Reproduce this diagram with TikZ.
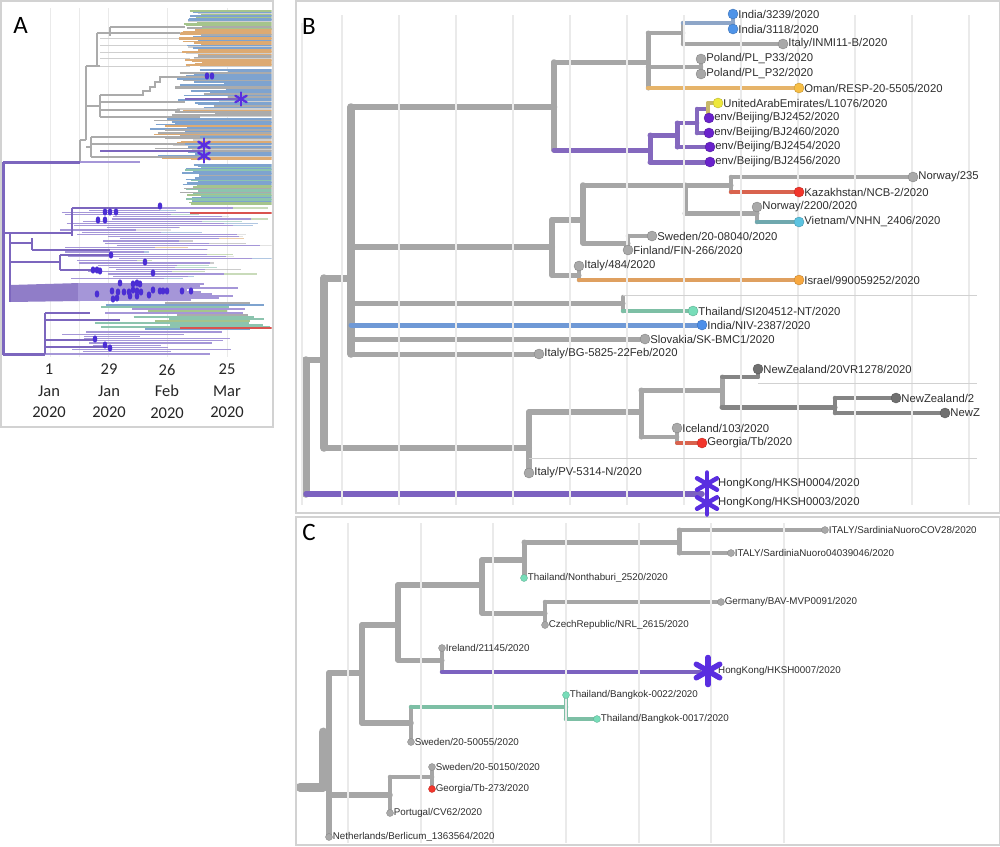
\documentclass[tikz,border=0pt]{standalone}
\usepackage{fontspec}
\setmainfont{Liberation Sans}
\newfontfamily\carl{Carlito}
\pgfdeclarelayer{bgl}
\pgfdeclarelayer{edges}
\pgfsetlayers{bgl,edges,main}
% panel A colours
\definecolor{aGreen}{HTML}{A5C48C}
\definecolor{aBlue}{HTML}{7EA3CF}
\definecolor{aGrey}{HTML}{ABABAB}
\definecolor{aOrange}{HTML}{DDAA72}
\definecolor{aTeal}{HTML}{8CC4AE}
\definecolor{aPurple}{HTML}{A596D8}
\definecolor{aRed}{HTML}{D9534F}
\definecolor{aGreyL}{HTML}{CFCFCF}
\definecolor{aPurpleD}{HTML}{7C66BE}
\definecolor{aDot}{HTML}{4B2ED4}
% tree colours
\definecolor{gB}{HTML}{A6A6A6}
\definecolor{gDk}{HTML}{858585}
\definecolor{gDot}{HTML}{A9A9A9}
\definecolor{nzD}{HTML}{707070}
\definecolor{gridc}{HTML}{EAEAEA}
\definecolor{framec}{HTML}{D2D2D2}
\definecolor{bluL}{HTML}{8EA6C8}
\definecolor{bluD}{HTML}{4F94E8}
\definecolor{orL}{HTML}{E6B46A}
\definecolor{orD}{HTML}{F7BE45}
\definecolor{yelD}{HTML}{EEE83C}
\definecolor{uaeL}{HTML}{C8B86A}
\definecolor{purL}{HTML}{8468BE}
\definecolor{purD}{HTML}{6A22CC}
\definecolor{redL}{HTML}{D9634E}
\definecolor{redD}{HTML}{F2362C}
\definecolor{tealL}{HTML}{6FA8AE}
\definecolor{cyanD}{HTML}{5CC3E0}
\definecolor{isrL}{HTML}{DFA060}
\definecolor{isrD}{HTML}{F7A840}
\definecolor{thL}{HTML}{7DBFA5}
\definecolor{thD}{HTML}{78DDB9}
\definecolor{indL}{HTML}{6F99D6}
\definecolor{indD}{HTML}{4C8FEA}
\definecolor{hkL}{HTML}{7C62C0}
\definecolor{astc}{HTML}{5A2EE0}
\newcommand\pickcol[1]{\ifcase#1 aGreen\or aBlue\or aGrey\or aOrange\or aTeal\or aPurple\or aRed\or aGreyL\fi}
\newcommand\hb[3]{\draw[#1] (#2 |- #3) -- (#3);}
\newcommand\vb[4]{\draw[#1] (#2 |- #3) -- (#2 |- #4);}
\newcommand\astx[3]{\foreach \aa in {30,90,150} \draw[astc, line width=#3, line cap=round] ([shift={(\aa:#2)}]#1.center) -- ([shift={(\aa+180:#2)}]#1.center);}
\tikzset{
  bw/.style={line width=#1, line cap=round, line join=round},
  tipB/.style={circle, inner sep=0pt, minimum size=10pt, fill=#1, draw=#1!78!black, line width=0.4pt, label distance=5pt},
  tipC/.style={circle, inner sep=0pt, minimum size=7pt, fill=#1, draw=#1!78!black, line width=0.3pt, label distance=3.5pt},
  lbB/.style={font=\fontsize{11.3}{13}\selectfont, text=black!82, inner sep=0pt},
  lbC/.style={font=\fontsize{9.8}{12}\selectfont, text=black!82, inner sep=0pt},
  panl/.style={font=\carl\fontsize{25}{28}\selectfont, inner sep=0pt},
  datel/.style={font=\carl\fontsize{16.5}{21.5}\selectfont, align=center, inner sep=0pt, text=black!85},
  grd/.style={gridc, line width=1.3pt},
  hl/.style={black!18, line width=0.8pt}
}
\begin{document}
\begin{tikzpicture}[x=1pt,y=-1pt]
\useasboundingbox (0,0) rectangle (1000,846);
\begin{pgfonlayer}{bgl}
\fill[white] (0,0) rectangle (1000,846);
\end{pgfonlayer}
% frames
\draw[framec, line width=1.5pt] (1,1) rectangle (273,427);
\draw[framec, line width=1.5pt] (295.75,1) rectangle (999.25,513);
\draw[framec, line width=1.5pt] (295.75,517) rectangle (999.25,845);

%================ PANEL A =================
\node[panl] (lA) at (20.5,25.5) {A};
\foreach \gx in {50,79,108,167,227} \draw[gridc, line width=1pt] (\gx,8) -- (\gx,357);
\node[datel] (dA1) at (49,391) {1\\Jan\\2020};
\node[datel] (dA2) at (109,391) {29\\Jan\\2020};
\node[datel] (dA3) at (167,391) {26\\Feb\\2020};
\node[datel] (dA4) at (227,391) {25\\Mar\\2020};
\begin{scope}
\clip (2,3) rectangle (271.5,357);
\pgfmathsetseed{2020}
% pale grey stems of top clade
\foreach \yy in {32,38,45,52,58,66} \draw[aGreyL, line width=1pt] (100,\yy) -- (190,\yy);
\foreach \yy in {11,12.3,...,30} {
  \pgfmathsetmacro\xs{183+20*rnd}
  \pgfmathtruncatemacro\ci{{0,1,2,1,0,7}[int(6*rnd)]}
  \edef\cn{\pickcol{\ci}}
  \draw[color=\cn, line width=1.5pt] (\xs,\yy) -- (272,\yy);
}
\foreach \yy in {30,31.3,...,67} {
  \pgfmathsetmacro\xs{178+25*rnd}
  \pgfmathtruncatemacro\ci{{3,3,2,1,3,7}[int(6*rnd)]}
  \edef\cn{\pickcol{\ci}}
  \draw[color=\cn, line width=1.5pt] (\xs,\yy) -- (272,\yy);
}
\foreach \yy in {70,71.5,...,117} {
  \pgfmathsetmacro\xs{170+65*rnd}
  \pgfmathtruncatemacro\ci{{1,2,1,1,3,7,2}[int(7*rnd)]}
  \edef\cn{\pickcol{\ci}}
  \draw[color=\cn, line width=1.5pt] (\xs,\yy) -- (272,\yy);
}
\foreach \yy in {119,120.4,...,160} {
  \pgfmathsetmacro\xs{150+50*rnd}
  \pgfmathtruncatemacro\ci{{1,2,1,3,7,1}[int(6*rnd)]}
  \edef\cn{\pickcol{\ci}}
  \draw[color=\cn, line width=1.5pt] (\xs,\yy) -- (272,\yy);
}
\foreach \yy in {165,166.3,...,205} {
  \pgfmathsetmacro\xs{180+22*rnd}
  \pgfmathtruncatemacro\ci{{1,0,1,2,1,4}[int(6*rnd)]}
  \edef\cn{\pickcol{\ci}}
  \draw[color=\cn, line width=1.5pt] (\xs,\yy) -- (272,\yy);
}
% purple clade
\foreach \yy in {208,210.2,...,280} {
  \pgfmathsetmacro\xs{60+60*rnd}
  \pgfmathsetmacro\xe{\xs+60+100*rnd}
  \pgfmathsetmacro\xf{\xe+45*rnd}
  \pgfmathtruncatemacro\ci{{0,1,3,4,2,7}[int(6*rnd)]}
  \edef\cn{\pickcol{\ci}}
  \draw[color=\cn, line width=1.1pt, opacity=0.6] (\xe,\yy) -- (\xf,\yy);
  \draw[aPurple, line width=1.1pt] (\xs,\yy) -- (\xe,\yy);
}
\fill[aPurpleD!85] (10,285) -- (80,283) -- (80,301) -- (10,302) -- cycle;
\foreach \yy in {284,286,...,300} {
  \pgfmathsetmacro\xe{170+70*rnd}
  \draw[aPurple, line width=1.2pt] (78,\yy) -- (\xe,\yy);
}
\foreach \yy in {303,305,...,330} {
  \pgfmathsetmacro\xs{90+90*rnd}
  \pgfmathsetmacro\xe{225+50*rnd}
  \pgfmathtruncatemacro\ci{{4,0,1,5,2,4}[int(6*rnd)]}
  \edef\cn{\pickcol{\ci}}
  \draw[color=\cn, line width=1.3pt] (\xs,\yy) -- (\xe,\yy);
}
\foreach \yy in {332,334.2,...,353} {
  \pgfmathsetmacro\xs{45+50*rnd}
  \pgfmathsetmacro\xe{140+100*rnd}
  \draw[aPurple, line width=1.1pt] (\xs,\yy) -- (\xe,\yy);
}
\draw[aRed, line width=1.8pt] (190,213) -- (272,213);
\draw[aRed, line width=1.8pt] (180,328) -- (272,328);
% grey backbone of top clade
\draw[aGrey, line width=1.6pt] (80,140) -- (80,162) (80,140) -- (86,140) (86,66) -- (86,140)
  (86,66) -- (100,66) (97,33) -- (97,66) (97,33) -- (180,33) (110,27) -- (110,36) (110,27) -- (185,27)
  (86,106) -- (100,106) (100,95) -- (100,117)
  (100,95) -- (143,95) -- (143,91) -- (150,91) -- (150,87) -- (155,87) -- (155,82) -- (160,82) -- (160,77) -- (205,77)
  (100,102) -- (185,102) (100,110) -- (180,110) (100,117) -- (200,117)
  (86,147) -- (91,147) (91,137) -- (91,157) (91,137) -- (200,137) (91,144) -- (185,144) (91,157) -- (205,157);
\draw[aPurpleD, line width=1.8pt] (185,99) -- (241,99) (100,151) -- (204,151);
% purple backbone
\draw[aPurpleD, line width=3pt] (3,162) -- (3,355) (3,162) -- (80,162) (3,354) -- (45,354);
\draw[aPurple, line width=1.8pt] (80,162) -- (140,162) (45,354) -- (210,354);
\draw[aPurpleD, line width=2pt] (45,313) -- (45,354) (3,233) -- (72,233) (72,208) -- (72,236) (72,208) -- (160,208)
  (10,233) -- (10,302) (10,243) -- (32,243) (32,238) -- (32,250) (32,250) -- (110,250)
  (10,262) -- (60,262) (60,255) -- (60,270) (60,255) -- (111,255) (60,270) -- (100,270)
  (45,313) -- (90,313) (45,320) -- (120,320) (45,340) -- (95,340) (45,347) -- (110,347);
% purple dots
\foreach \p in {(207,76),(212,76),(160,206),(105,212),(110,212),(116,212),(98,220),(105,220),
  (111,255),(145,262),(153,273),(93,270),(97,270),(100,271),(120,283),(133,284),(137,283),(140,284),
  (112,291),(118,292),(124,292),(129,292),(133,290),(137,291),(141,292),(153,290),(160,291),(163,291),
  (167,291),(182,291),(191,291),(97,294),(113,299),(117,298),(130,296),(137,296),(149,295),
  (95,339),(105,345),(110,348)}
  \fill[aDot] \p ellipse (2.3 and 3.6);
\coordinate (aAst1) at (241,99);
\coordinate (aAst2) at (204,145);
\coordinate (aAst3) at (204,156);
\astx{aAst1}{6.5}{2.3}
\astx{aAst2}{6.5}{2.5}
\astx{aAst3}{6.5}{2.5}
\end{scope}

%================ PANEL B =================
\node[panl] (lB) at (309,26) {B};
\draw[grd] (302,23) -- (302,505);
\foreach \gx in {342,399,456,513,570,627,684,741,798,855,912,969} \draw[grd] (\gx,15) -- (\gx,505);
\draw[hl] (623,295) -- (977,295) (758,383) -- (977,383) (529,458) -- (977,458);
% internal nodes
\coordinate (bR) at (306,427);
\coordinate (bP) at (324,360);
\coordinate (bQ) at (351,278);
\coordinate (bS) at (554,107);
\coordinate (bU) at (648,62);
\coordinate (bW) at (683,33);
\coordinate (bX) at (733,23);
\coordinate (bPol) at (701,67);
\coordinate (bV) at (650,150);
\coordinate (bV2) at (677,135);
\coordinate (bV3) at (697,123);
\coordinate (bV4) at (708,109);
\coordinate (bT) at (552,247);
\coordinate (bT1) at (583,220);
\coordinate (bT3) at (685,185);
\coordinate (bT5) at (731,185);
\coordinate (bT6) at (757,213);
\coordinate (bT4) at (628,243);
\coordinate (bT2) at (579,275);
\coordinate (bTh) at (623,303);
\coordinate (tThx) at (623,297);
\coordinate (bN0) at (529,448);
\coordinate (bN1) at (641,412);
\coordinate (bN2) at (722,390);
\coordinate (bN2a) at (758,377);
\coordinate (bN4) at (835,407);
\coordinate (bN3) at (677,437);
\coordinate (bHK) at (702,494);
% tips
\node[tipB=bluD, label={[lbB]right:India/3239/2020}] (tIn1) at (733,14) {};
\node[tipB=bluD, label={[lbB]right:India/3118/2020}] (tIn2) at (733,29) {};
\node[tipB=gDot, label={[lbB]right:Italy/INMI11-B/2020}] (tItI) at (783,44) {};
\node[tipB=gDot, label={[lbB]right:Poland/PL\_P33/2020}] (tPo1) at (701,59) {};
\node[tipB=gDot, label={[lbB]right:Poland/PL\_P32/2020}] (tPo2) at (701,74) {};
\node[tipB=orD, label={[lbB]right:Oman/RESP-20-5505/2020}] (tOm) at (799,88) {};
\node[tipB=yelD, label={[lbB]right:UnitedArabEmirates/L1076/2020}] (tUae) at (718,103) {};
\node[tipB=purD, label={[lbB]right:env/Beijing/BJ2452/2020}] (tBj52) at (709,118) {};
\node[tipB=purD, label={[lbB]right:env/Beijing/BJ2460/2020}] (tBj60) at (709,133) {};
\node[tipB=purD, label={[lbB]right:env/Beijing/BJ2454/2020}] (tBj54) at (710,147) {};
\node[tipB=purD, label={[lbB]right:env/Beijing/BJ2456/2020}] (tBj56) at (710,162) {};
\node[tipB=gDot, label={[lbB]right:Norway/235}] (tNo35) at (913,177) {};
\node[tipB=redD, label={[lbB]right:Kazakhstan/NCB-2/2020}] (tKz) at (799,192) {};
\node[tipB=gDot, label={[lbB]right:Norway/2200/2020}] (tNo22) at (757,207) {};
\node[tipB=cyanD, label={[lbB]right:Vietnam/VNHN\_2406/2020}] (tVn) at (799,222) {};
\node[tipB=gDot, label={[lbB]right:Sweden/20-08040/2020}] (tSw) at (652,236) {};
\node[tipB=gDot, label={[lbB]right:Finland/FIN-266/2020}] (tFi) at (628,250) {};
\node[tipB=gDot, label={[lbB]right:Italy/484/2020}] (tIt484) at (579,266) {};
\node[tipB=isrD, label={[lbB]right:Israel/990059252/2020}] (tIsr) at (799,280) {};
\node[tipB=thD, label={[lbB]right:Thailand/SI204512-NT/2020}] (tTh) at (693,311) {};
\node[tipB=indD, label={[lbB]right:India/NIV-2387/2020}] (tInN) at (702,325) {};
\node[tipB=gDot, label={[lbB]right:Slovakia/SK-BMC1/2020}] (tSk) at (645,339) {};
\node[tipB=gDot, label={[lbB]right:Italy/BG-5825-22Feb/2020}] (tItBG) at (539,354) {};
\node[tipB=nzD, label={[lbB]right:NewZealand/20VR1278/2020}] (tNZ1) at (758,369) {};
\node[tipB=nzD, label={[lbB]right:NewZealand/2}] (tNZ2) at (896,398) {};
\node[tipB=nzD, label={[lbB]right:NewZ}] (tNZ3) at (945,413) {};
\node[tipB=gDot, label={[lbB]right:Iceland/103/2020}] (tIce) at (677,428) {};
\node[tipB=redD, label={[lbB]right:Georgia/Tb/2020}] (tGeo) at (702,443) {};
\node[tipB=gDot, label={[lbB]right:Italy/PV-5314-N/2020}] (tItPV) at (529,473) {};
\coordinate (tHK4) at (707,484);
\coordinate (tHK3) at (707,503);
\node[lbB, anchor=west] (lHK4) at ([xshift=11]tHK4) {HongKong/HKSH0004/2020};
\node[lbB, anchor=west] (lHK3) at ([xshift=11]tHK3) {HongKong/HKSH0003/2020};
\astx{tHK4}{11.5}{4.5}
\astx{tHK3}{11.5}{4.5}
\begin{pgfonlayer}{edges}
% root and backbone
\vb{gB, bw=7.5}{bR}{bP}{bHK}
\hb{gB, bw=6.5}{bR}{bP}
\hb{hkL, bw=5.5}{bR}{bHK}
\vb{gB, bw=7.5}{bP}{bQ}{bN0}
\hb{gB, bw=7}{bP}{bQ}
\hb{gB, bw=6}{bP}{bN0}
\vb{gB, bw=7.5}{bQ}{bS}{tItBG}
\hb{gB, bw=6.5}{bQ}{bS}
\hb{gB, bw=6}{bQ}{bT}
\hb{gB, bw=5}{bQ}{bTh}
\hb{indL, bw=5}{bQ}{tInN}
\hb{gB, bw=5}{bQ}{tSk}
\hb{gB, bw=5}{bQ}{tItBG}
% S clade
\vb{gB, bw=5.5}{bS}{bU}{bV}
\hb{gB, bw=5}{bS}{bU}
\hb{purL, bw=5}{bS}{bV}
\vb{gB, bw=5}{bU}{bW}{tOm}
\hb{gB, bw=4.5}{bU}{bW}
\hb{gB, bw=4.5}{bU}{bPol}
\hb{orL, bw=4.5}{bU}{tOm}
\vb{gB, bw=4.5}{bW}{bX}{tItI}
\hb{bluL, bw=4.5}{bW}{bX}
\hb{gB, bw=4.5}{bW}{tItI}
\vb{bluL, bw=4}{bX}{tIn1}{tIn2}
\vb{gB, bw=4}{bPol}{tPo1}{tPo2}
\vb{purL, bw=5}{bV}{bV2}{tBj56}
\hb{purL, bw=5}{bV}{bV2}
\hb{purL, bw=5}{bV}{tBj56}
\vb{purL, bw=5}{bV2}{bV3}{tBj54}
\hb{purL, bw=4.5}{bV2}{bV3}
\hb{purL, bw=4.5}{bV2}{tBj54}
\vb{purL, bw=4.5}{bV3}{bV4}{tBj60}
\hb{purL, bw=4}{bV3}{bV4}
\hb{purL, bw=4.5}{bV3}{tBj60}
\vb{uaeL, bw=4}{bV4}{tUae}{tBj52}
\hb{uaeL, bw=4}{bV4}{tUae}
% T clade
\vb{gB, bw=6}{bT}{bT1}{bT2}
\hb{gB, bw=5.5}{bT}{bT1}
\hb{gB, bw=5}{bT}{bT2}
\vb{gB, bw=5.5}{bT1}{bT3}{bT4}
\hb{gB, bw=5}{bT1}{bT3}
\hb{gB, bw=5}{bT1}{bT4}
\vb{gB, bw=5}{bT3}{bT5}{bT6}
\hb{gB, bw=5}{bT3}{bT5}
\hb{gB, bw=5}{bT3}{bT6}
\vb{gB, bw=4.5}{bT5}{tNo35}{tKz}
\hb{gB, bw=4.5}{bT5}{tNo35}
\hb{redL, bw=4.5}{bT5}{tKz}
\vb{gB, bw=4.5}{bT6}{tNo22}{tVn}
\hb{tealL, bw=4.5}{bT6}{tVn}
\vb{gB, bw=4.5}{bT4}{tSw}{tFi}
\hb{gB, bw=4.5}{bT4}{tSw}
\vb{gB, bw=4.5}{bT2}{tIt484}{tIsr}
\hb{isrL, bw=4.5}{bT2}{tIsr}
\vb{gB, bw=4.5}{bTh}{tThx}{tTh}
\hb{thL, bw=4.5}{bTh}{tTh}
% N clade
\vb{gB, bw=5.5}{bN0}{bN1}{tItPV}
\hb{gB, bw=5.5}{bN0}{bN1}
\vb{gB, bw=5}{bN1}{bN2}{bN3}
\hb{gB, bw=5}{bN1}{bN2}
\hb{gB, bw=4.5}{bN1}{bN3}
\vb{gB, bw=5}{bN2}{bN2a}{bN4}
\hb{gDk, bw=4}{bN2}{bN2a}
\hb{gDk, bw=5}{bN2}{bN4}
\vb{gDk, bw=4}{bN2a}{tNZ1}{bN2a}
\vb{gDk, bw=4.5}{bN4}{tNZ2}{tNZ3}
\hb{gDk, bw=4.5}{bN4}{tNZ2}
\hb{gDk, bw=4.5}{bN4}{tNZ3}
\vb{gB, bw=4}{bN3}{tIce}{tGeo}
\hb{redL, bw=4}{bN3}{tGeo}
\end{pgfonlayer}

%================ PANEL C =================
\node[panl] (lC) at (309,532) {C};
\foreach \gx in {348,421,493,566,639,711,784} \draw[grd] (\gx,523) -- (\gx,843);
\coordinate (cR0) at (300,787);
\coordinate (cR) at (323,787);
\coordinate (cRt) at (323,732);
\coordinate (cA) at (329,760);
\coordinate (cC1) at (362,673);
\coordinate (cC2) at (398,625);
\coordinate (cC3) at (482,585);
\coordinate (cC4) at (524,560);
\coordinate (cC6) at (679,542);
\coordinate (cC5) at (545,613);
\coordinate (cC9) at (442,660);
\coordinate (cHK) at (700,672);
\coordinate (cC8) at (411,723);
\coordinate (cC10) at (566,707);
\coordinate (cC7) at (390,795);
\coordinate (cC11) at (432,777);
\node[tipC=gDot, label={[lbC]right:ITALY/SardiniaNuoroCOV28/2020}] (tSa1) at (825,530) {};
\node[tipC=gDot, label={[lbC]right:ITALY/SardiniaNuoro04039046/2020}] (tSa2) at (731,553) {};
\node[tipC=thD, label={[lbC]right:Thailand/Nonthaburi\_2520/2020}] (tNon) at (524,578) {};
\node[tipC=gDot, label={[lbC]right:Germany/BAV-MVP0091/2020}] (tGer) at (721,602) {};
\node[tipC=gDot, label={[lbC]right:CzechRepublic/NRL\_2615/2020}] (tCz) at (545,625) {};
\node[tipC=gDot, label={[lbC]right:Ireland/21145/2020}] (tIre) at (442,648) {};
\node[tipC=thD, label={[lbC]right:Thailand/Bangkok-0022/2020}] (tBk22) at (566,695) {};
\node[tipC=thD, label={[lbC]right:Thailand/Bangkok-0017/2020}] (tBk17) at (597,719) {};
\node[tipC=gDot, label={[lbC]right:Sweden/20-50055/2020}] (tSw55) at (411,742) {};
\node[tipC=gDot, label={[lbC]right:Sweden/20-50150/2020}] (tSw50) at (432,767) {};
\node[tipC=redD, label={[lbC]right:Georgia/Tb-273/2020}] (tGeo2) at (432,789) {};
\node[tipC=gDot, label={[lbC]right:Portugal/CV62/2020}] (tPor) at (390,813) {};
\node[tipC=gDot, label={[lbC]right:Netherlands/Berlicum\_1363564/2020}] (tNet) at (329,837) {};
\coordinate (tHKc) at (708,671);
\node[lbC, anchor=west] (lHKc) at ([xshift=10]tHKc) {HongKong/HKSH0007/2020};
\astx{tHKc}{13.5}{5.5}
\begin{pgfonlayer}{edges}
\draw[gB, bw=9] (cR0) -- (cR);
\draw[gB, bw=9] (cRt) -- (cR);
\vb{gB, bw=6}{cA}{cC1}{tNet}
\hb{gB, bw=5.5}{cA}{cC1}
\hb{gB, bw=5.5}{cA}{cC7}
\vb{gB, bw=5.5}{cC1}{cC2}{cC8}
\hb{gB, bw=5.5}{cC1}{cC2}
\hb{gB, bw=5.5}{cC1}{cC8}
\vb{gB, bw=5.5}{cC2}{cC3}{cC9}
\hb{gB, bw=5.5}{cC2}{cC3}
\hb{gB, bw=5}{cC2}{cC9}
\vb{gB, bw=5.5}{cC3}{cC4}{cC5}
\hb{gB, bw=5.5}{cC3}{cC4}
\hb{gB, bw=5}{cC3}{cC5}
\vb{gB, bw=5}{cC4}{cC6}{tNon}
\hb{gB, bw=5}{cC4}{cC6}
\vb{gB, bw=5}{cC6}{tSa1}{tSa2}
\hb{gB, bw=4.5}{cC6}{tSa1}
\hb{gB, bw=4.5}{cC6}{tSa2}
\vb{gB, bw=4.5}{cC5}{tGer}{tCz}
\hb{gB, bw=4.5}{cC5}{tGer}
\vb{gB, bw=4}{cC9}{tIre}{cHK}
\hb{hkL, bw=4.5}{cC9}{cHK}
\vb{gB, bw=4.5}{cC8}{cC10}{tSw55}
\hb{thL, bw=4.5}{cC8}{cC10}
\vb{thL, bw=4.5}{cC10}{tBk22}{tBk17}
\hb{thL, bw=4.5}{cC10}{tBk17}
\vb{gB, bw=4.5}{cC7}{cC11}{tPor}
\hb{gB, bw=4.5}{cC7}{cC11}
\vb{gB, bw=4}{cC11}{tSw50}{tGeo2}
\end{pgfonlayer}
\end{tikzpicture}
\end{document}
